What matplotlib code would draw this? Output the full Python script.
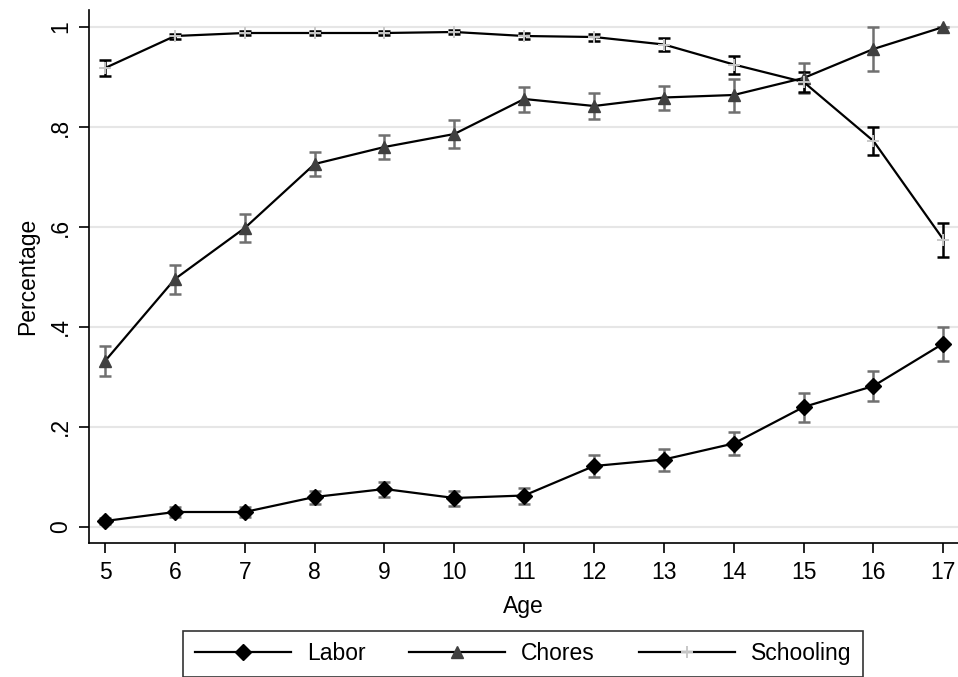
import matplotlib
matplotlib.use("Agg")
import matplotlib.pyplot as plt
import numpy as np

plt.rcParams['font.family'] = ['Liberation Sans', 'DejaVu Sans']

ages = [5, 6, 7, 8, 9, 10, 11, 12, 13, 14, 15, 16, 17]
labor = [0.012, 0.030, 0.030, 0.060, 0.076, 0.058, 0.063, 0.122, 0.135, 0.167, 0.240, 0.282, 0.367]
labor_err = [0.006, 0.010, 0.010, 0.013, 0.015, 0.015, 0.016, 0.022, 0.022, 0.023, 0.029, 0.030, 0.034]
chores = [0.332, 0.496, 0.598, 0.726, 0.760, 0.786, 0.856, 0.842, 0.859, 0.864, 0.898, 0.956, 1.000]
chores_err = [0.030, 0.029, 0.028, 0.024, 0.024, 0.028, 0.025, 0.026, 0.024, 0.033, 0.030, 0.044, 0.0]
schooling = [0.918, 0.982, 0.988, 0.988, 0.988, 0.990, 0.982, 0.980, 0.965, 0.925, 0.890, 0.772, 0.575]
schooling_err = [0.016, 0.005, 0.004, 0.004, 0.004, 0.004, 0.006, 0.007, 0.013, 0.018, 0.020, 0.028, 0.034]
yticks = [0, 0.2, 0.4, 0.6, 0.8, 1.0]
ylabels = ["0", ".2", ".4", ".6", ".8", "1"]

FS = 16.5

fig = plt.figure(figsize=(9.58, 6.77), dpi=100)
ax = fig.add_axes([89/958, 1-543/677, (958-89)/958, (543-10)/677])

x = np.array(ages)

# error bars
ax.errorbar(x, labor, yerr=labor_err, fmt='none', ecolor='#707070', elinewidth=1.8, capsize=4, capthick=1.8, zorder=2)
ax.errorbar(x, chores, yerr=chores_err, fmt='none', ecolor='#707070', elinewidth=1.8, capsize=4, capthick=1.8, zorder=2)
ax.errorbar(x, schooling, yerr=schooling_err, fmt='none', ecolor='black', elinewidth=1.8, capsize=4, capthick=1.8, zorder=2)

l1, = ax.plot(x, labor, color='black', lw=1.6, marker='D', markersize=8, markerfacecolor='black', markeredgecolor='black', zorder=3, label='Labor')
l2, = ax.plot(x, chores, color='black', lw=1.6, marker='^', markersize=9, markerfacecolor='#404040', markeredgecolor='#404040', zorder=3, label='Chores')
l3, = ax.plot(x, schooling, color='black', lw=1.6, marker='+', markersize=9, markeredgewidth=1.4, markeredgecolor='#c8c8c8', zorder=3, label='Schooling')

ax.set_xlim(4.77, 17.21)
ax.set_ylim(-0.032, 1.034)
ax.set_xticks(ages)
ax.set_yticks(yticks)
ax.set_yticklabels(ylabels, rotation=90, va='center')
ax.tick_params(axis='both', labelsize=FS, length=7, width=1.2, color='black')
ax.tick_params(axis='y', pad=5)
ax.tick_params(axis='x', pad=6)
ax.grid(axis='y', color='#e6e6e6', lw=1.5)
ax.set_axisbelow(True)
for s in ['top', 'right']:
    ax.spines[s].set_visible(False)
for s in ['left', 'bottom']:
    ax.spines[s].set_linewidth(1.2)
ax.set_xlabel('Age', fontsize=FS, labelpad=8)
ax.set_ylabel('Percentage', fontsize=FS, labelpad=7)

leg = fig.legend(handles=[l1, l2, l3], loc='upper center', bbox_to_anchor=(523/958, 1-631/677), ncol=3,
                 fontsize=FS, frameon=True, fancybox=False, edgecolor='black', handlelength=4.2,
                 columnspacing=1.9, handletextpad=0.7, borderaxespad=0, borderpad=0.5)
leg.get_frame().set_linewidth(1.2)

fig.savefig('out.png', dpi=100)
